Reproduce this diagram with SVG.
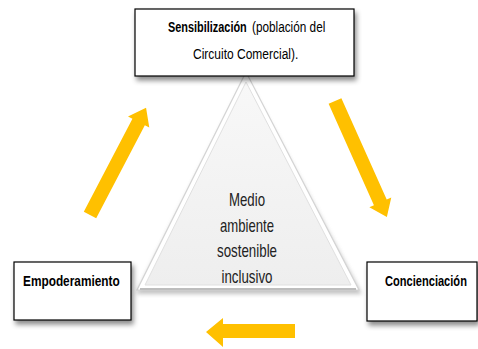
<svg xmlns="http://www.w3.org/2000/svg" width="478" height="349" viewBox="0 0 478 349">
<defs>
<filter id="sh" x="-20%" y="-20%" width="140%" height="160%">
<feDropShadow dx="2" dy="4" stdDeviation="2.5" flood-color="#000" flood-opacity="0.45"/>
</filter>
<filter id="tsh" x="-20%" y="-20%" width="140%" height="140%">
<feGaussianBlur stdDeviation="2"/>
</filter>
<linearGradient id="tg" x1="0" y1="0" x2="0" y2="1">
<stop offset="0" stop-color="#f8f8f8"/>
<stop offset="1" stop-color="#eeeeee"/>
</linearGradient>
</defs>
<style>
.box{fill:#fff;stroke:#000;stroke-width:1.2}
.t{font-family:"Liberation Sans",Arial,sans-serif;font-size:15px;fill:#000}
.b{font-weight:bold}
.arr{fill:#ffc000}
.mid{font-family:"Liberation Sans",Arial,sans-serif;font-size:18px;fill:#222;text-anchor:middle}
</style>
<rect width="478" height="349" fill="#fff"/>
<g id="triangle">
<polygon points="246,78 136,294 362,294" fill="#9a9a9a" filter="url(#tsh)" opacity="0.6"/>
<polygon points="246,72 137,290 359,290" fill="#ffffff" stroke="#d4d4d4" stroke-width="1.2"/>
<polygon points="246,82 145,285 351,285" fill="url(#tg)" stroke="#e0e0e0" stroke-width="1"/>
<line x1="140" y1="289" x2="356" y2="289" stroke="#bdbdbd" stroke-width="2"/>
<text class="mid" transform="translate(247,206) scale(0.75,1)" textLength="48" lengthAdjust="spacingAndGlyphs">Medio</text>
<text class="mid" transform="translate(247,232) scale(0.75,1)" textLength="72" lengthAdjust="spacingAndGlyphs">ambiente</text>
<text class="mid" transform="translate(247,257) scale(0.75,1)" textLength="80" lengthAdjust="spacingAndGlyphs">sostenible</text>
<text class="mid" transform="translate(247,283) scale(0.75,1)" textLength="68" lengthAdjust="spacingAndGlyphs">inclusivo</text>
</g>
<g id="connectors">
<polygon class="arr" points="0,-7 105,-7 105,-12 121,0 105,12 105,7 0,7" transform="translate(90,215) rotate(-62.4)"/>
<polygon class="arr" points="0,-7 111,-7 111,-12 127,0 111,12 111,7 0,7" transform="translate(335,101) rotate(65.9)"/>
<polygon class="arr" points="295,324 223,324 223,318 206,332 223,347 223,338 295,338"/>
</g>
<g id="sensibilizacion">
<rect class="box" x="135" y="9" width="219" height="67" filter="url(#sh)"/>
<text class="t b" transform="translate(168,32) scale(0.78,1)" textLength="101" lengthAdjust="spacingAndGlyphs">Sensibilización</text>
<text class="t" transform="translate(252,32) scale(0.78,1)" textLength="94" lengthAdjust="spacingAndGlyphs">(población del</text>
<text class="t" transform="translate(193,59) scale(0.78,1)" textLength="135" lengthAdjust="spacingAndGlyphs">Circuito Comercial).</text>
</g>
<g id="empoderamiento">
<rect class="box" x="14" y="262" width="117" height="58" filter="url(#sh)"/>
<text class="t b" transform="translate(23,286) scale(0.78,1)" textLength="124" lengthAdjust="spacingAndGlyphs">Empoderamiento</text>
</g>
<g id="concienciacion">
<rect class="box" x="367" y="262" width="110" height="59" filter="url(#sh)"/>
<text class="t b" transform="translate(385,286) scale(0.78,1)" textLength="105" lengthAdjust="spacingAndGlyphs">Concienciación</text>
</g>
</svg>
